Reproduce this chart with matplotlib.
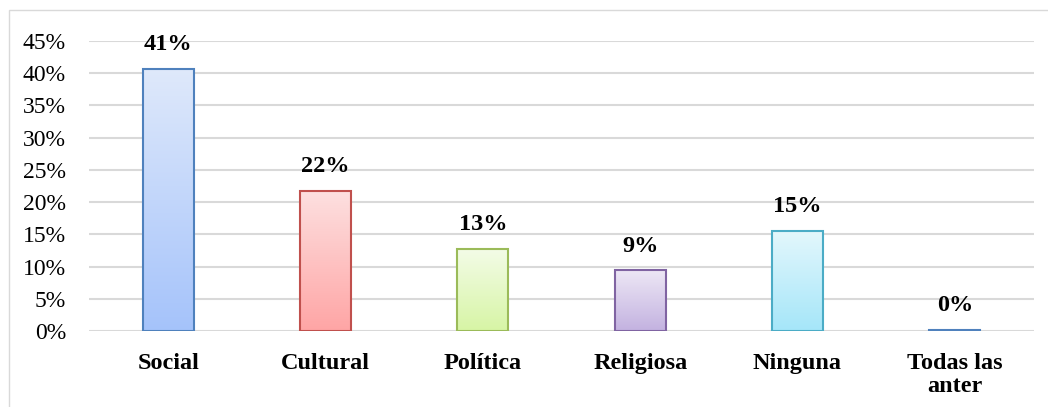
import matplotlib.pyplot as plt
import matplotlib.colors as mcolors
from matplotlib.patches import Rectangle
import numpy as np

plt.rcParams["font.family"] = ["Liberation Serif", "DejaVu Serif"]

# Data
categories = ["Social", "Cultural", "Política", "Religiosa", "Ninguna", "Todas las\nanter"]
values = [0.407, 0.217, 0.127, 0.094, 0.155, 0.002]
labels = ["41%", "22%", "13%", "9%", "15%", "0%"]

# Gradient colours (top, bottom) and edge colour for each bar
top_colors = ["#dfe9fb", "#fde0e0", "#f3fce7", "#ede7f5", "#e3f7fc", "#dfe9fb"]
bottom_colors = ["#a5c3fa", "#ffa5a5", "#d7f5a5", "#c3b2e0", "#a5e6f9", "#a5c3fa"]
edge_colors = ["#4f81bd", "#c0504d", "#9bbb59", "#8064a2", "#4bacc6", "#4f81bd"]

fig = plt.figure(figsize=(10.48, 4.07), dpi=100)
ax = fig.add_axes([0.0854, 0.1867, 0.9008, 0.7126])

# outer light frame
fig.patches.append(Rectangle((9 / 1048, -0.1), 1.2, 1 - 10 / 407 + 0.1,
                             transform=fig.transFigure, fill=False,
                             edgecolor="#d9d9d9", linewidth=1.0))

x = np.arange(len(categories))
bars = ax.bar(x, values, width=0.325, facecolor="none", zorder=3)

for bar, c_top, c_bot, ec in zip(bars, top_colors, bottom_colors, edge_colors):
    cmap = mcolors.LinearSegmentedColormap.from_list("g", [c_bot, c_top])
    grad = np.linspace(0, 1, 256).reshape(-1, 1)
    x0, y0 = bar.get_x(), bar.get_y()
    w, h = bar.get_width(), bar.get_height()
    im = ax.imshow(grad, cmap=cmap, origin="lower", aspect="auto",
                   extent=[x0, x0 + w, y0, y0 + h], zorder=2)
    im.set_clip_path(bar)
    bar.set_edgecolor(ec)
    bar.set_linewidth(1.5)

for xi, v, lab in zip(x, values, labels):
    ax.annotate(lab, (xi, v), xytext=(0, 10), textcoords="offset points",
                ha="center", va="bottom", fontsize=17.5, fontweight="bold")

ax.set_xlim(-0.5, len(categories) - 0.5)
ax.set_ylim(0, 0.45)
ax.set_yticks(np.arange(0, 0.451, 0.05))
ax.set_yticklabels([f"{int(round(t * 100))}%" for t in np.arange(0, 0.451, 0.05)])
ax.set_xticks(x)
ax.set_xticklabels(categories, fontweight="bold", linespacing=1.1)
ax.tick_params(axis="y", length=0, labelsize=17, pad=17)
ax.tick_params(axis="x", length=0, labelsize=17.5, pad=16)
ax.yaxis.grid(True, color="#d9d9d9", linewidth=1.5, zorder=0)
ax.set_axisbelow(True)
for s in ax.spines.values():
    s.set_visible(False)

fig.savefig("out.png", dpi=100)
